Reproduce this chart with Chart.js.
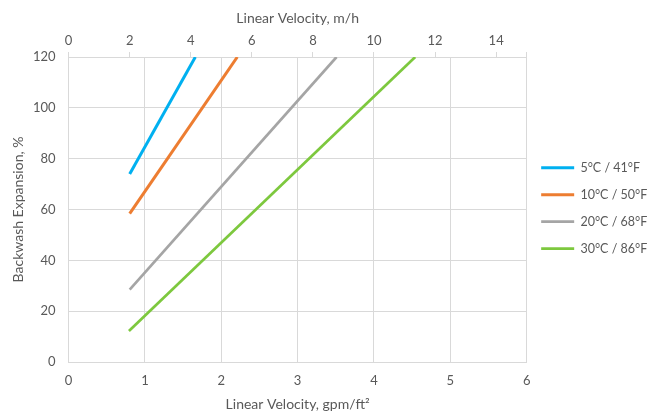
<!DOCTYPE html>
<html>
<head>
<meta charset="utf-8">
<script src="https://cdn.jsdelivr.net/npm/chart.js@4.4.1/dist/chart.umd.min.js"></script>
<style>
  body { margin: 0; background: #fff; }
  #wrap { width: 652px; height: 414px; }
</style>
</head>
<body>
<div id="wrap"><canvas id="expChart" width="652" height="414"></canvas></div>
<script>
// series labels
const temperatures = ["5°C / 41°F", "10°C / 50°F", "20°C / 68°F", "30°C / 86°F"];
const lineColors = ["#00B0F0", "#ED7D31", "#A5A5A5", "#7DC83E"];

// linear velocity (gpm/ft2) and backwash expansion (%)
const velocity5C = [0.8, 1.66];
const expansion5C = [74, 120];
const velocity10C = [0.8, 2.21];
const expansion10C = [58.4, 120];
const velocity20C = [0.8, 3.51];
const expansion20C = [28.5, 120];
const velocity30C = [0.79, 4.54];
const expansion30C = [12.2, 120];

// axis ranges
const gpmTicks = [0, 1, 2, 3, 4, 5, 6];
const mhTicks = [0, 2, 4, 6, 8, 10, 12, 14];
const expansionTicks = [0, 20, 40, 60, 80, 100, 120];

const velocities = [velocity5C, velocity10C, velocity20C, velocity30C];
const expansions = [expansion5C, expansion10C, expansion20C, expansion30C];

const textColor = "#595959";
const gridColor = "#D9D9D9";
const family = "Lato, 'Open Sans', sans-serif";
const tickFont = { family: family, size: 13 };
const titleFont = { family: family, size: 14 };
const legendFont = { family: family, size: 12.5 };

const datasets = temperatures.map((label, i) => ({
  label: label,
  data: velocities[i].map((v, j) => ({ x: v, y: expansions[i][j] })),
  borderColor: lineColors[i],
  backgroundColor: lineColors[i],
  borderWidth: i < 2 ? 3 : 2.7,
  pointRadius: 0,
  fill: false,
  tension: 0,
  xAxisID: "x",
}));

// note: chart.js reserves tick padding twice, so title paddings are pulled in
new Chart(document.getElementById("expChart"), {
  type: "scatter",
  data: { datasets: datasets },
  options: {
    responsive: false,
    animation: false,
    showLine: true,
    layout: { padding: { left: 4, right: -5.25, top: 4, bottom: 1.6 } },
    plugins: {
      tooltip: { enabled: false },
      legend: {
        position: "right",
        labels: {
          usePointStyle: true,
          pointStyle: "line",
          pointStyleWidth: 33,
          color: textColor,
          font: legendFont,
          padding: 14.5,
        },
      },
    },
    scales: {
      x: {
        type: "linear",
        position: "bottom",
        min: gpmTicks[0],
        max: gpmTicks[gpmTicks.length - 1],
        ticks: { stepSize: 1, color: textColor, font: tickFont, padding: 11 },
        grid: { color: gridColor, drawTicks: false },
        border: { color: gridColor },
        title: { display: true, text: "Linear Velocity, gpm/ft²", color: textColor, font: titleFont, padding: { top: -4, bottom: 0 } },
      },
      x2: {
        type: "linear",
        position: "top",
        min: mhTicks[0],
        max: 15,
        ticks: {
          stepSize: 2,
          color: textColor,
          font: tickFont,
          padding: 3,
          callback: (v) => (mhTicks.includes(v) ? v : ""),
        },
        grid: { drawOnChartArea: false, color: gridColor, tickLength: 5 },
        border: { color: gridColor },
        title: { display: true, text: "Linear Velocity, m/h", color: textColor, font: titleFont, padding: { top: 5.6, bottom: 4 } },
      },
      y: {
        type: "linear",
        min: expansionTicks[0],
        max: expansionTicks[expansionTicks.length - 1],
        ticks: { stepSize: 20, color: textColor, font: tickFont, padding: 13 },
        grid: { color: gridColor, drawTicks: false },
        border: { color: gridColor },
        title: { display: true, text: "Backwash Expansion, %", color: textColor, font: titleFont, padding: { top: 5.6, bottom: -6.4 } },
      },
    },
  },
});
</script>
</body>
</html>
